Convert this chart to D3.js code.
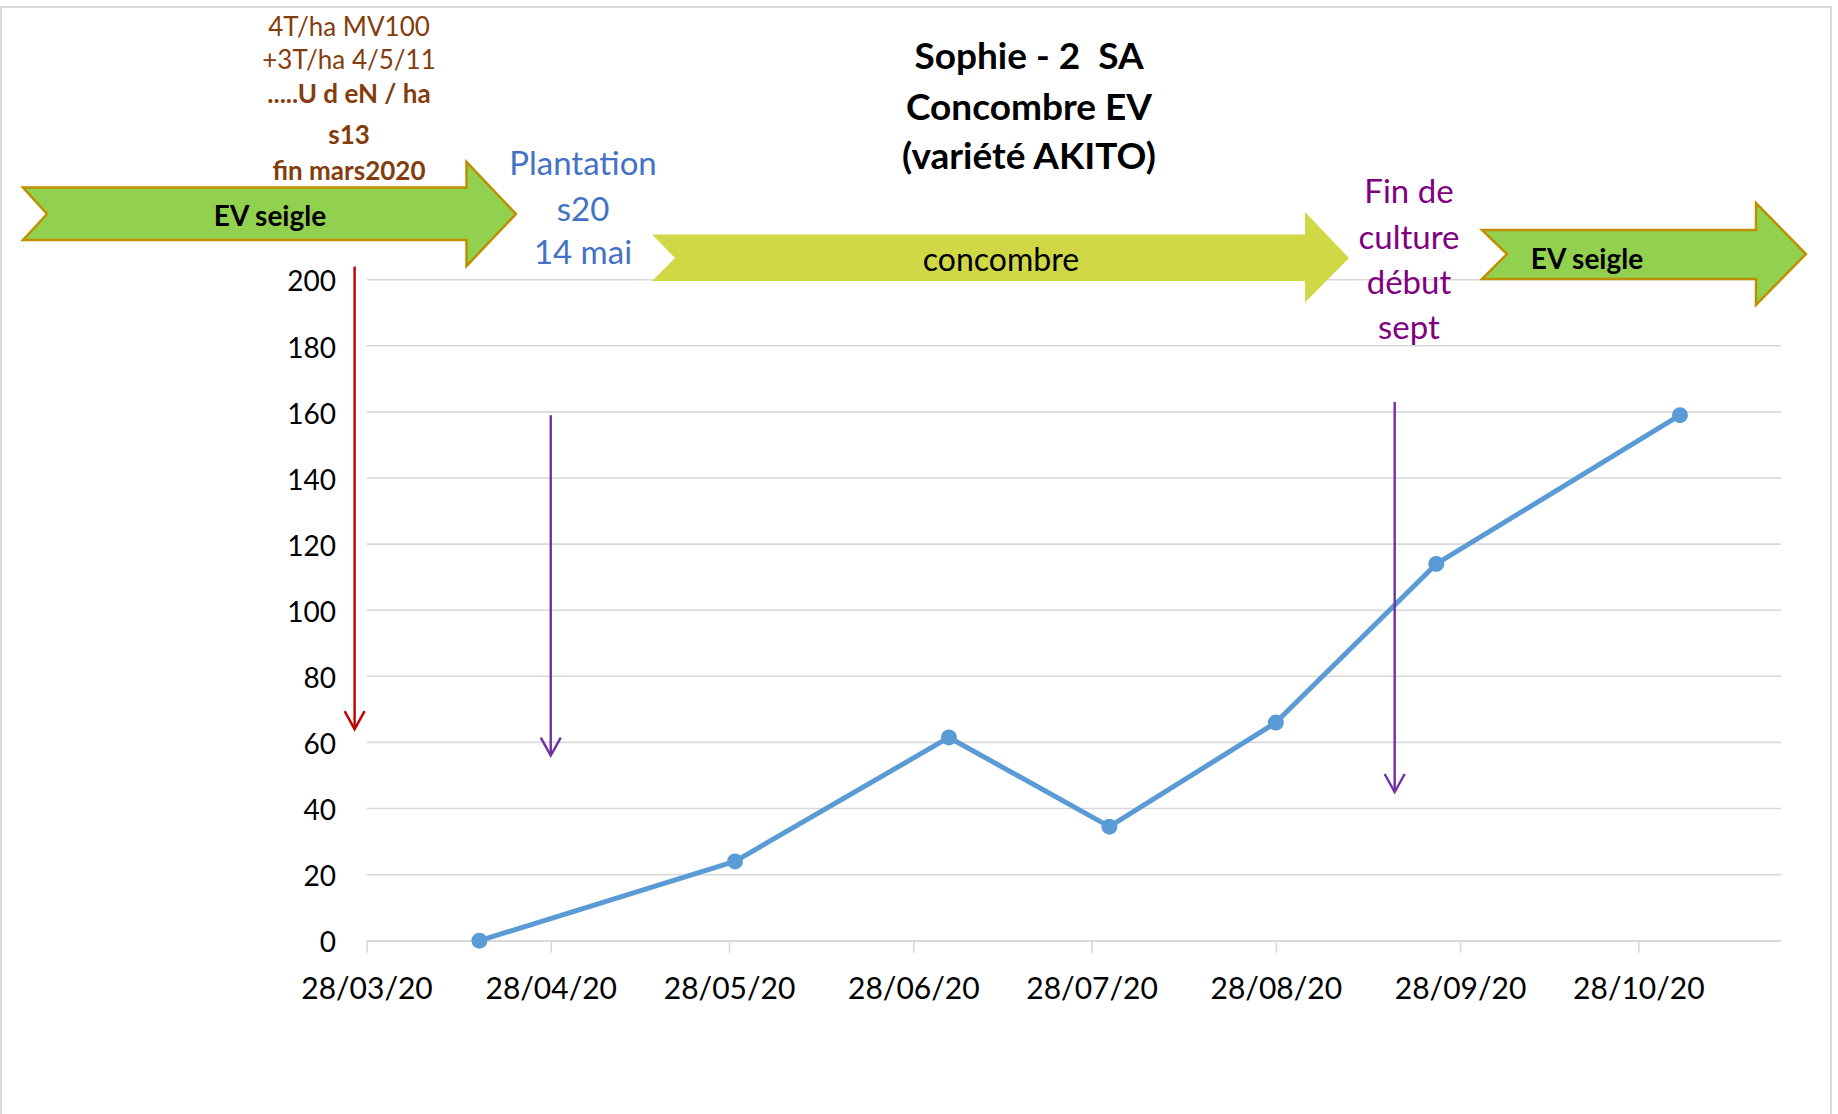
<!DOCTYPE html>
<html>
<head>
<meta charset="utf-8">
<script src="https://cdn.jsdelivr.net/npm/d3@7"></script>
<style>
  body { margin: 0; background: #fff; }
  svg { display: block; font-family: Lato, "Open Sans", sans-serif; }
</style>
</head>
<body>
<div id="chart"></div>
<script>
// data
const sampleDates = ["2020-04-16", "2020-05-29", "2020-07-04", "2020-07-31", "2020-08-28", "2020-09-24", "2020-11-04"];
const sampleValues = [0, 24, 61.5, 34.5, 66, 114, 159];
const tickDates = ["2020-03-28", "2020-04-28", "2020-05-28", "2020-06-28", "2020-07-28", "2020-08-28", "2020-09-28", "2020-10-28"];
const yTicks = [0, 20, 40, 60, 80, 100, 120, 140, 160, 180, 200];
const titleLines = ["Sophie - 2  SA", "Concombre EV", "(variété AKITO)"];
const manureLines = ["4T/ha MV100", "+3T/ha 4/5/11", ".....U d eN / ha", "s13", "fin mars2020"];
const plantingLines = ["Plantation", "s20", "14 mai"];
const endLines = ["Fin de", "culture", "début", "sept"];
const eventDates = ["2020-03-26", "2020-04-28", "2020-09-17"];
const eventFrom = [204, 159, 163];
const eventTo = [64, 56, 45];

const W = 1838, H = 1114;
const parse = d3.utcParse("%Y-%m-%d");

const x = d3.scaleUtc()
  .domain([parse("2020-03-28"), parse("2020-11-21")])
  .range([366.5, 1781]);

const y = d3.scaleLinear()
  .domain([0, 200])
  .range([940.7, 279.7]);

const svg = d3.select("#chart")
  .append("svg")
  .attr("width", W)
  .attr("height", H);

svg.append("rect")
  .attr("width", W).attr("height", H)
  .attr("fill", "#fff");

// outer frame
svg.append("rect")
  .attr("x", 1).attr("y", 7)
  .attr("width", 1830).attr("height", 1130)
  .attr("fill", "none")
  .attr("stroke", "#D9D9D9")
  .attr("stroke-width", 2);

// gridlines
svg.append("g")
  .selectAll("line")
  .data(yTicks)
  .join("line")
  .attr("x1", x.range()[0])
  .attr("x2", x.range()[1])
  .attr("y1", d => y(d))
  .attr("y2", d => y(d))
  .attr("stroke", "#D9D9D9")
  .attr("stroke-width", 1.6);

// y labels
svg.append("g")
  .selectAll("text")
  .data(yTicks)
  .join("text")
  .attr("x", 336)
  .attr("y", d => y(d))
  .attr("dy", "0.42em")
  .attr("text-anchor", "end")
  .attr("font-size", 28)
  .attr("fill", "#000")
  .text(d => d);

// x axis
const xAxis = d3.axisBottom(x)
  .tickValues(tickDates.map(parse))
  .tickFormat(d3.utcFormat("%d/%m/%y"))
  .tickSize(12)
  .tickSizeOuter(0)
  .tickPadding(25);

const gx = svg.append("g")
  .attr("transform", `translate(0,${y(0)})`)
  .call(xAxis);
gx.select(".domain").attr("stroke", "#D9D9D9").attr("stroke-width", 1.6);
gx.selectAll(".tick line").attr("stroke", "#D9D9D9").attr("stroke-width", 1.6);
gx.selectAll(".tick text")
  .attr("font-size", 30)
  .attr("font-family", "Lato, sans-serif")
  .attr("fill", "#000");

// series
const points = sampleDates.map((d, i) => ({ date: parse(d), value: sampleValues[i] }));

svg.append("path")
  .datum(points)
  .attr("fill", "none")
  .attr("stroke", "#5B9BD5")
  .attr("stroke-width", 5)
  .attr("stroke-linejoin", "round")
  .attr("d", d3.line().x(d => x(d.date)).y(d => y(d.value)));

svg.append("g")
  .selectAll("circle")
  .data(points)
  .join("circle")
  .attr("cx", d => x(d.date))
  .attr("cy", d => y(d.value))
  .attr("r", 8)
  .attr("fill", "#5B9BD5");

// event arrows
const events = eventDates.map((d, i) => ({
  date: parse(d), from: eventFrom[i], to: eventTo[i],
  color: i === 0 ? "#C00000" : "#7030A0"
}));
const ev = svg.append("g").selectAll("g").data(events).join("g")
  .attr("stroke", d => d.color)
  .attr("stroke-width", 2.4)
  .attr("fill", "none");
ev.append("line")
  .attr("x1", d => x(d.date)).attr("x2", d => x(d.date))
  .attr("y1", d => y(d.from)).attr("y2", d => y(d.to));
ev.append("path")
  .attr("d", d => {
    const cx = x(d.date), ty = y(d.to);
    return `M${cx - 10},${ty - 18} L${cx},${ty} L${cx + 10},${ty - 18}`;
  });

// block arrows (phase bands)
const blockArrow = (a) =>
  `M${a.left},${a.top} L${a.base},${a.top} L${a.base},${a.headTop} L${a.tip},${a.cy} ` +
  `L${a.base},${a.headBottom} L${a.base},${a.bottom} L${a.left},${a.bottom} L${a.notch},${a.cy} Z`;

const phases = [
  { left: 23, notch: 47, top: 187.5, bottom: 240, base: 466.5, headTop: 162, headBottom: 266, tip: 516, cy: 214,
    fill: "#92D050", stroke: "#BF8F00", label: "EV seigle", lx: 270, ly: 216, weight: 700, size: 28 },
  { left: 652, notch: 675, top: 234.5, bottom: 281, base: 1305, headTop: 212, headBottom: 302.5, tip: 1349, cy: 258,
    fill: "#D1D846", stroke: "none", label: "concombre", lx: 1001, ly: 260, weight: 400, size: 32 },
  { left: 1482, notch: 1507, top: 230, bottom: 279, base: 1756, headTop: 203, headBottom: 305, tip: 1806, cy: 254,
    fill: "#92D050", stroke: "#BF8F00", label: "EV seigle", lx: 1587, ly: 259, weight: 700, size: 28 }
];

const ph = svg.append("g").selectAll("g").data(phases).join("g");
ph.append("path")
  .attr("d", blockArrow)
  .attr("fill", d => d.fill)
  .attr("stroke", d => d.stroke)
  .attr("stroke-width", 2.5)
  .attr("stroke-linejoin", "miter");
ph.append("text")
  .attr("x", d => d.lx)
  .attr("y", d => d.ly)
  .attr("dy", "0.35em")
  .attr("text-anchor", "middle")
  .attr("font-size", d => d.size)
  .attr("font-weight", d => d.weight)
  .attr("fill", "#000")
  .text(d => d.label);

// text blocks
const textBlock = (lines, cx, ys, color, size, weights) => {
  svg.append("g")
    .selectAll("text")
    .data(lines)
    .join("text")
    .attr("x", cx)
    .attr("y", (d, i) => ys[i])
    .attr("dy", "0.35em")
    .attr("text-anchor", "middle")
    .attr("font-size", size)
    .attr("font-weight", (d, i) => weights ? weights[i] : 400)
    .attr("fill", color)
    .style("white-space", "pre")
    .text(d => d);
};

textBlock(titleLines, 1029, [56, 107, 156], "#000", 37, [700, 700, 700]);
textBlock(manureLines, 349, [27, 60, 94, 135, 171], "#843C0C", 26, [400, 400, 700, 700, 700]);
textBlock(plantingLines, 583, [163, 209, 252], "#4472C4", 33);
textBlock(endLines, 1409, [191, 237, 282, 327], "#800080", 33);
</script>
</body>
</html>
